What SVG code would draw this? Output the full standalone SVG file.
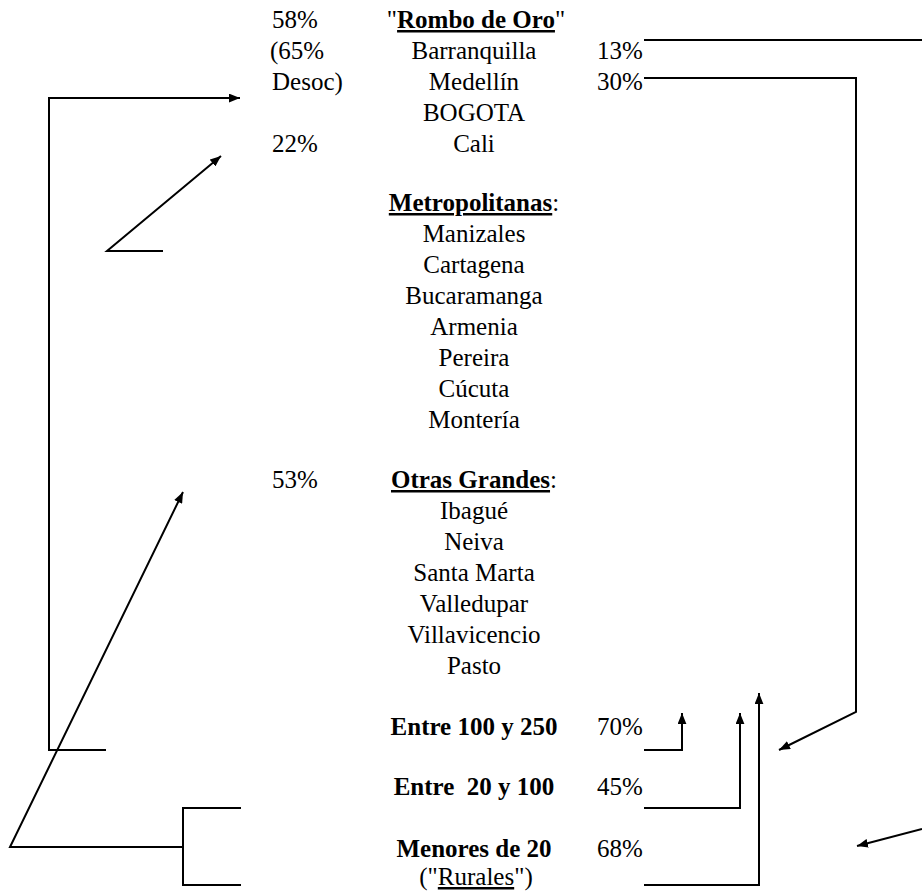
<svg xmlns="http://www.w3.org/2000/svg" width="922" height="894" viewBox="0 0 922 894">
<style>
text{font-family:"Liberation Serif","Times New Roman",serif;font-size:25px;fill:#000}
.c{text-anchor:middle}
.b{font-weight:bold}
.u{text-decoration:underline}
.ln{fill:none;stroke:#000;stroke-width:2}
</style>
<defs>
<marker id="ah" viewBox="0 0 10 8" refX="10" refY="4" markerWidth="11" markerHeight="9" markerUnits="userSpaceOnUse" orient="auto"><path d="M0,0 L10,4 L0,8 z" fill="#000"/></marker>
</defs>
<rect width="922" height="894" fill="#fff"/>
<g id="rombo">
<text x="272" y="28">58%</text>
<text x="270" y="59">(65%</text>
<text x="272" y="90">Desoc)</text>
<text x="272" y="152">22%</text>
<text class="c" x="476" y="28">"<tspan class="b u">Rombo de Oro</tspan>"</text>
<text class="c" x="474" y="59">Barranquilla</text>
<text class="c" x="474" y="90">Medellín</text>
<text class="c" x="474" y="121">BOGOTA</text>
<text class="c" x="474" y="152">Cali</text>
<text x="597" y="59">13%</text>
<text x="597" y="90">30%</text>
</g>
<g id="metropolitanas">
<text class="c" x="474" y="211"><tspan class="b u">Metropolitanas</tspan>:</text>
<text class="c" x="474" y="242">Manizales</text>
<text class="c" x="474" y="273">Cartagena</text>
<text class="c" x="474" y="304">Bucaramanga</text>
<text class="c" x="474" y="335">Armenia</text>
<text class="c" x="474" y="366">Pereira</text>
<text class="c" x="474" y="397">Cúcuta</text>
<text class="c" x="474" y="428">Montería</text>
</g>
<g id="otras">
<text x="272" y="488">53%</text>
<text class="c" x="474" y="488"><tspan class="b u">Otras Grandes</tspan>:</text>
<text class="c" x="474" y="519">Ibagué</text>
<text class="c" x="474" y="550">Neiva</text>
<text class="c" x="474" y="581">Santa Marta</text>
<text class="c" x="474" y="612">Valledupar</text>
<text class="c" x="474" y="643">Villavicencio</text>
<text class="c" x="474" y="674">Pasto</text>
</g>
<g id="entre100">
<text class="b c" x="474" y="735">Entre 100 y 250</text>
<text x="597" y="735">70%</text>
</g>
<g id="entre20">
<text class="b c" x="474" y="795" xml:space="preserve">Entre  20 y 100</text>
<text x="597" y="795">45%</text>
</g>
<g id="menores">
<text class="b c" x="474" y="857">Menores de 20</text>
<text x="597" y="857">68%</text>
<text class="c" x="476" y="885">("<tspan class="u">Rurales</tspan>")</text>
</g>
<g id="connectors">
<path class="ln" d="M644,40 H922"/>
<path class="ln" d="M644,78 H856 V712 L779,750" marker-end="url(#ah)"/>
<path class="ln" d="M106,750 H49 V98 H240" marker-end="url(#ah)"/>
<path class="ln" d="M163,251 H107 L221,156" marker-end="url(#ah)"/>
<path class="ln" d="M183,847 H10 L183,492" marker-end="url(#ah)"/>
<path class="ln" d="M241,808 H183 V885 H241"/>
<path class="ln" d="M644,750 H682 V713" marker-end="url(#ah)"/>
<path class="ln" d="M644,808 H740 V713" marker-end="url(#ah)"/>
<path class="ln" d="M644,885 H759 V693" marker-end="url(#ah)"/>
<path class="ln" d="M922,829 L857,846" marker-end="url(#ah)"/>
</g>
</svg>
